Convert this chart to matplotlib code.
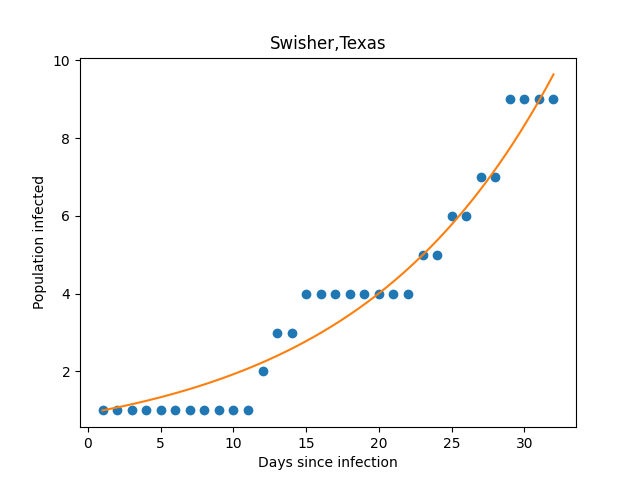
import numpy as np
import matplotlib
matplotlib.use("Agg")
import matplotlib.pyplot as plt

days = list(range(1, 33))
infected = [1]*11 + [2, 3, 3] + [4]*8 + [5, 5, 6, 6, 7, 7, 9, 9, 9, 9]

# fitted exponential model parameters
fit_a = 0.929
fit_b = 0.0731

fig, ax = plt.subplots(figsize=(6.4, 4.8), dpi=100)
ax.scatter(days, infected, color="#1f77b4")
xs = np.linspace(1, 32, 200)
ax.plot(xs, fit_a*np.exp(fit_b*xs), color="#ff7f0e")
ax.set_title("Swisher,Texas")
ax.set_xlabel("Days since infection")
ax.set_ylabel("Population infected")
fig.savefig("out.png")
